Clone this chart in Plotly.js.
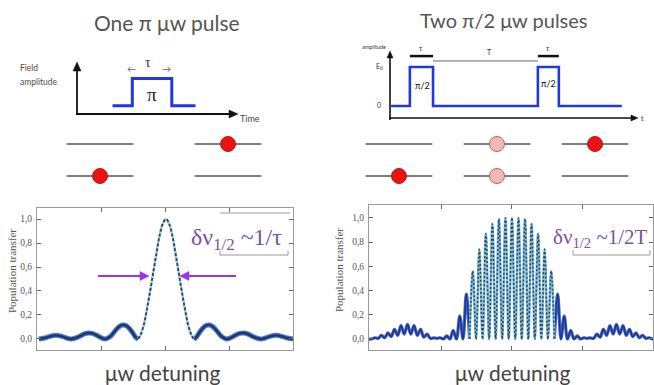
<!DOCTYPE html>
<html><head><meta charset="utf-8">
<script src="https://cdn.plot.ly/plotly-3.0.1.min.js"></script>
<style>html,body{margin:0;padding:0;background:#fff}#chart{width:654px;height:385px}</style>
</head><body><div id="chart"></div>
<script>
// ---------------- data ----------------
// One pi pulse: population transfer vs detuning (arbitrary detuning units)
const piDetuning = [-3.97,-3.8,-3.65,-3.45,-3.25,-3.1,-2.97,-2.85,-2.7,-2.55,-2.42,-2.3,-2.15,-2.0,-1.89,-1.75,-1.65,-1.55,-1.45,-1.35,-1.25,-1.15,-1.05,-0.95,-0.87,-0.8,-0.7,-0.6,-0.5,-0.4,-0.3,-0.2,-0.1,
  0,0.1,0.2,0.3,0.4,0.5,0.6,0.7,0.8,0.87,0.95,1.05,1.15,1.25,1.35,1.45,1.55,1.65,1.75,1.89,2.0,2.15,2.3,2.42,2.55,2.7,2.85,2.97,3.1,3.25,3.45,3.65,3.8,3.97];
const piTransfer = [0,0.008,0.02,0.03,0.022,0.008,0,0.006,0.022,0.042,0.05,0.046,0.028,0.007,0,0.018,0.047,0.08,0.105,0.117,0.112,0.09,0.055,0.015,0,0.03,0.11,0.24,0.39,0.55,0.71,0.86,0.96,
  1.0,0.96,0.86,0.71,0.55,0.39,0.24,0.11,0.03,0,0.015,0.055,0.09,0.112,0.117,0.105,0.08,0.047,0.018,0,0.007,0.028,0.046,0.05,0.042,0.022,0.006,0,0.008,0.022,0.03,0.02,0.008,0];

// Two pi/2 pulses (Ramsey): detuning in fringe periods
const ramseyDetuning = [-22,-21.5,-21,-20.5,-20,-19.5,-19,-18.5,-18,-17.5,-17,-16.5,-16,-15.5,-15,-14.5,-14,-13.5,-13,-12.5,-12,-11.5,-11,-10.5,-10,-9.5,-9,-8.5,-8,-7.5,-7,-6.5,-6,-5.5,-5,-4.5,-4,-3.5,-3,-2.5,-2,-1.5,-1,-0.5,
  0,0.5,1,1.5,2,2.5,3,3.5,4,4.5,5,5.5,6,6.5,7,7.5,8,8.5,9,9.5,10,10.5,11,11.5,12,12.5,13,13.5,14,14.5,15,15.5,16,16.5,17,17.5,18,18.5,19,19.5,20,20.5,21,21.5,22];
const ramseyTransfer = [0,0,0.01,0.005,0.03,0.01,0.05,0.02,0.08,0.03,0.11,0.04,0.12,0.04,0.11,0.03,0.08,0.015,0.04,0.005,0.01,0.005,0.01,0,0.025,0,0.07,0,0.19,0,0.37,0,0.56,0,0.74,0,0.87,0,0.95,0,0.99,0,1.0,0,
  1.0,0,1.0,0,0.99,0,0.95,0,0.87,0,0.74,0,0.56,0,0.37,0,0.19,0,0.07,0,0.025,0,0.01,0.005,0.01,0.005,0.04,0.015,0.08,0.03,0.11,0.04,0.12,0.04,0.11,0.03,0.08,0.02,0.05,0.01,0.03,0.005,0.01,0,0];

// pulse sequences (time, field amplitude)
const onePulseTime = [1.8,2.8,2.8,4.8,4.8,6.0];
const onePulseAmp  = [0,0,1,1,0,0];
const twoPulseTime = [0.05,0.9,0.9,1.95,1.95,6.7,6.7,7.65,7.65,10.5];
const twoPulseAmp  = [0,0,1,1,0,0,1,1,0,0];
const tauStart = [0.9,6.7], tauEnd = [1.95,7.65];
const bigTStart = 1.95, bigTEnd = 6.7;

// two-level diagrams
const leftGroups = [0,1];
const rightGroups = [0,1,2];
const levels = [0,1];
const leftAtomGroup = [0,1], leftAtomLevel = [0,1], leftAtomState = ['full','full'];
const rightAtomGroup = [0,1,1,2], rightAtomLevel = [0,1,0,1], rightAtomState = ['full','half','half','full'];

const yTicks = [0,0.2,0.4,0.6,0.8,1.0];
const yTickText = ['0,0','0,2','0,4','0,6','0,8','1,0'];

// ---------------- helpers ----------------
const W = 654, H = 385;
const px = x => x / W, py = y => 1 - y / H;

function split(xs, ys, th) {
  const ix = [], iy = [], ox = [], oy = [];
  xs.forEach((x, i) => { if (Math.abs(x) <= th) { ix.push(x); iy.push(ys[i]); } });
  xs.forEach((x, i) => { if (x <= -th) { ox.push(x); oy.push(ys[i]); } });
  ox.push(null); oy.push(null);
  xs.forEach((x, i) => { if (x >= th) { ox.push(x); oy.push(ys[i]); } });
  return {ix, iy, ox, oy};
}
function levelLines(groups, half) {
  const x = [], y = [];
  groups.forEach(g => levels.forEach(l => { x.push(g - half, g + half, null); y.push(l, l, null); }));
  return {x, y};
}

const piS = split(piDetuning, piTransfer, 0.87);
const raS = split(ramseyDetuning, ramseyTransfer, 6.5);
const lvL = levelLines(leftGroups, 0.26);
const lvR = levelLines(rightGroups, 0.34);
const atomFill = s => s === 'full' ? '#ee1111' : '#f5b7b7';
const atomEdge = s => s === 'full' ? '#a32020' : '#b06a6a';

const traces = [
  // left lineshape
  {x: piS.ox, y: piS.oy, xaxis:'x', yaxis:'y', mode:'lines', line:{color:'#4a78cc', width:5, shape:'spline'}, connectgaps:false},
  {x: piS.ox, y: piS.oy, xaxis:'x', yaxis:'y', mode:'lines', line:{color:'#1f3468', width:2.4, shape:'spline'}, connectgaps:false},
  {x: piS.ix, y: piS.iy, xaxis:'x', yaxis:'y', mode:'lines', line:{color:'#a6d6e6', width:2.6, shape:'spline'}},
  {x: piS.ix, y: piS.iy, xaxis:'x', yaxis:'y', mode:'lines', line:{color:'#2e4456', width:1.8, shape:'spline', dash:'3px,2px'}},
  // right Ramsey fringes
  {x: raS.ox, y: raS.oy, xaxis:'x2', yaxis:'y2', mode:'lines', line:{color:'#3d62c8', width:3.2, shape:'spline'}, connectgaps:false},
  {x: raS.ox, y: raS.oy, xaxis:'x2', yaxis:'y2', mode:'lines', line:{color:'#1e3388', width:1.4, shape:'spline'}, connectgaps:false},
  {x: raS.ix, y: raS.iy, xaxis:'x2', yaxis:'y2', mode:'lines', line:{color:'#86c0dc', width:2.6, shape:'spline'}},
  {x: raS.ix, y: raS.iy, xaxis:'x2', yaxis:'y2', mode:'lines', line:{color:'#2a4862', width:1.6, shape:'spline', dash:'2px,2px'}},
  // pulse sequences
  {x: onePulseTime, y: onePulseAmp, xaxis:'x3', yaxis:'y3', mode:'lines', line:{color:'#2038e0', width:3}},
  {x: twoPulseTime, y: twoPulseAmp, xaxis:'x4', yaxis:'y4', mode:'lines', line:{color:'#2038e0', width:2.6}},
  {x: [tauStart[0], tauEnd[0], null, tauStart[1], tauEnd[1]], y: [1.28,1.28,null,1.28,1.28], xaxis:'x4', yaxis:'y4', mode:'lines', line:{color:'#111', width:2.5}},
  {x: [bigTStart, bigTEnd], y: [1.154,1.154], xaxis:'x4', yaxis:'y4', mode:'lines', line:{color:'#666', width:1}},
  // level diagrams
  {x: lvL.x, y: lvL.y, xaxis:'x5', yaxis:'y5', mode:'lines', line:{color:'#555', width:1.6}, connectgaps:false},
  {x: lvR.x, y: lvR.y, xaxis:'x6', yaxis:'y5', mode:'lines', line:{color:'#555', width:1.6}, connectgaps:false},
  {x: leftAtomGroup, y: leftAtomLevel, xaxis:'x5', yaxis:'y5', mode:'markers',
   marker:{size:15, color: leftAtomState.map(atomFill), line:{color: leftAtomState.map(atomEdge), width:1}}},
  {x: rightAtomGroup, y: rightAtomLevel, xaxis:'x6', yaxis:'y5', mode:'markers',
   marker:{size:15, color: rightAtomState.map(atomFill), line:{color: rightAtomState.map(atomEdge), width:1}}}
];

const hidden = {visible:false, fixedrange:true};
const frameAxis = {showline:true, mirror:'ticks', linecolor:'#9a9a9a', linewidth:1, ticks:'inside', ticklen:4, tickcolor:'#666',
  showgrid:false, zeroline:false, fixedrange:true};
const yFrame = Object.assign({}, frameAxis, {tickvals: yTicks, ticktext: yTickText,
  tickfont:{family:'Liberation Serif', size:9.5, color:'#555'}, ticklabelstandoff:2});

const sans = 'Lato, "Open Sans", sans-serif';
const serif = '"Liberation Serif", "DejaVu Serif", serif';
function txt(t, x, y, size, color, opts) {
  return Object.assign({text:t, x:px(x), y:py(y), xref:'paper', yref:'paper', showarrow:false,
    xanchor:'center', yanchor:'middle', font:{family:sans, size:size, color:color}}, opts || {});
}

const annotations = [
  txt('One π μw pulse', 167, 22, 21, '#555'),
  txt('Two π/2 μw pulses', 504, 20, 20, '#555'),
  txt('Field', 18, 68, 8.5, '#6b3b35', {xanchor:'left'}),
  txt('amplitude', 18, 82, 8.5, '#5a4a48', {xanchor:'left'}),
  txt('Time', 238, 118, 9, '#444', {xanchor:'left'}),
  txt('τ', 148, 62, 14, '#333', {font:{family:serif, size:14, color:'#333'}}),
  txt('←', 131, 68, 9, '#666'),
  txt('→', 166, 68, 9, '#666'),
  txt('π', 152, 95, 19, '#222', {font:{family:serif, size:19, color:'#222'}}),
  txt('amplitude', 374, 47, 5.5, '#333'),
  txt('E<sub>0</sub>', 379, 66, 7, '#333'),
  txt('0', 379, 105, 7, '#333'),
  txt('π/2', 422, 86, 9, '#111'),
  txt('π/2', 548, 84, 9, '#111'),
  txt('τ', 421, 48, 7, '#333'),
  txt('τ', 548, 48, 7, '#333'),
  txt('T', 489, 52, 7, '#333'),
  txt('t', 642, 118, 7, '#333'),
  txt('μw detuning', 162, 372, 21, '#444'),
  txt('μw detuning', 512, 372, 21, '#444'),
  txt('Population transfer', 12, 271, 11, '#555', {textangle:-90, font:{family:serif, size:11, color:'#555'}}),
  txt('Population transfer', 339, 270, 11, '#555', {textangle:-90, font:{family:serif, size:11, color:'#555'}}),
  txt('δν<sub>1/2</sub> ~1/τ', 189, 239, 24, '#7b52a3', {xanchor:'left', font:{family:serif, size:24, color:'#7b52a3'}}),
  txt('δν<sub>1/2</sub> ~1/2T', 551, 238, 21, '#7b52a3', {xanchor:'left', font:{family:serif, size:21, color:'#7b52a3'}})
];

function seg(x0, y0, x1, y1, color, w) {
  return {type:'line', xref:'paper', yref:'paper', x0:px(x0), y0:py(y0), x1:px(x1), y1:py(y1), line:{color:color, width:w}};
}
// arrow drawn as a line plus a filled triangular head (pixel positions of the decoration)
function arrowShapes(hx, hy, tx, ty, color, w, len, half) {
  const dx = hx - tx, dy = hy - ty, L = Math.hypot(dx, dy), ux = dx / L, uy = dy / L;
  const bx = hx - ux * len, by = hy - uy * len, nx = -uy, ny = ux;
  const p = (x, y) => px(x) + ',' + py(y);
  return [
    seg(tx, ty, bx + ux, by + uy, color, w),
    {type:'path', xref:'paper', yref:'paper',
     path:'M' + p(hx, hy) + ' L' + p(bx + nx * half, by + ny * half) + ' L' + p(bx - nx * half, by - ny * half) + ' Z',
     fillcolor:color, line:{color:color, width:0.5}}
  ];
}
const shapes = [
  seg(220, 213, 290, 213, '#999', 1),
  seg(220, 255, 288, 255, '#999', 1), seg(220, 251, 220, 255, '#999', 1), seg(288, 251, 288, 255, '#999', 1),
  seg(573, 255, 650, 255, '#999', 1), seg(573, 250, 573, 255, '#999', 1), seg(650, 250, 650, 255, '#999', 1),
  ...arrowShapes(77, 62, 77, 115, '#111', 1.8, 9, 4),
  ...arrowShapes(238, 114, 76, 114, '#111', 1.8, 9, 4),
  ...arrowShapes(390, 51, 390, 120, '#111', 1.6, 7, 3),
  ...arrowShapes(638, 118, 389, 118, '#111', 1.6, 7, 3),
  ...arrowShapes(149, 276, 98, 276, '#9933ee', 2.2, 9, 4.5),
  ...arrowShapes(180, 276, 236, 276, '#9933ee', 2.2, 9, 4.5)
];

const layout = {
  width: W, height: H, margin:{l:0, r:0, t:0, b:0}, paper_bgcolor:'#fff', plot_bgcolor:'rgba(0,0,0,0)',
  showlegend:false,
  xaxis: Object.assign({}, frameAxis, {domain:[px(37), px(293)], range:[-4.03, 3.97], tickvals:[-2,0,2], showticklabels:false, anchor:'y'}),
  yaxis: Object.assign({}, yFrame, {domain:[py(350), py(208)], range:[-0.092, 1.092], anchor:'x'}),
  xaxis2: Object.assign({}, frameAxis, {domain:[px(369), px(653)], range:[-21.9, 21.6], tickvals:[-10.87,0,10.87], showticklabels:false, anchor:'y2'}),
  yaxis2: Object.assign({}, yFrame, {domain:[py(350), py(205)], range:[-0.091, 1.107], anchor:'x2'}),
  xaxis3: Object.assign({}, hidden, {domain:[px(77), px(235)], range:[0, 8], anchor:'y3'}),
  yaxis3: Object.assign({}, hidden, {domain:[py(114), py(65)], range:[-0.3, 1.5], anchor:'x3'}),
  xaxis4: Object.assign({}, hidden, {domain:[px(390), px(635)], range:[0, 11.1], anchor:'y4'}),
  yaxis4: Object.assign({}, hidden, {domain:[py(118), py(40)], range:[-0.308, 1.692], anchor:'x4'}),
  xaxis5: Object.assign({}, hidden, {domain:[px(36), px(292)], range:[-0.5, 1.5], anchor:'y5'}),
  xaxis6: Object.assign({}, hidden, {domain:[px(350), px(644)], range:[-0.5, 2.5], anchor:'y5'}),
  yaxis5: Object.assign({}, hidden, {domain:[py(192), py(128)], range:[-0.5, 1.5], anchor:'x5'}),
  annotations: annotations,
  shapes: shapes
};

Plotly.newPlot('chart', traces, layout, {staticPlot:true, displayModeBar:false});
</script>
</body></html>
